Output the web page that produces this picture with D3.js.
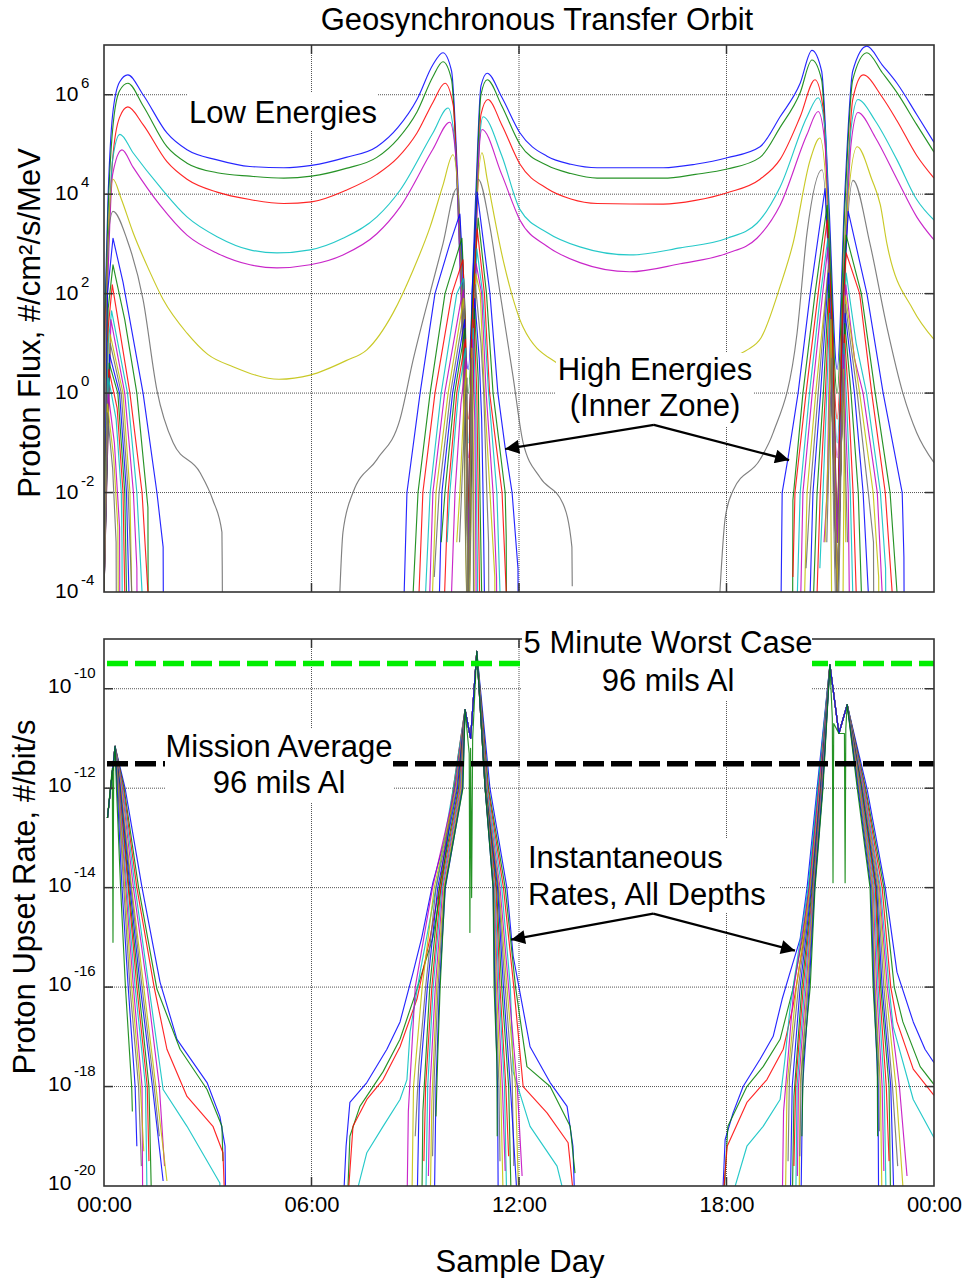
<!DOCTYPE html>
<html>
<head>
<meta charset="utf-8">
<script src="https://cdn.jsdelivr.net/npm/d3@7"></script>
<style>
  body { margin: 0; background: #fff; }
  svg { font-family: Arial, "Liberation Sans", sans-serif; }
</style>
</head>
<body>
<svg id="chart" width="963" height="1278"></svg>
<script>
// ---- axes ----
const hourTicks = [0, 6, 12, 18, 24];
const hourLabels = ["00:00", "06:00", "12:00", "18:00", "00:00"];
const fluxTicks = [1e6, 1e4, 1e2, 1e0, 1e-2, 1e-4];
const rateTicks = [1e-10, 1e-12, 1e-14, 1e-16, 1e-18, 1e-20];

const seriesColors = ["#0000ff", "#008000", "#ff0000", "#00bfbf", "#c000c0", "#c0c000", "#6a6a6a"];

// ---- top panel: proton flux, [hour, #/cm2/s/MeV] ----
const lowBlue = [[0,10],[0.12,1e4],[0.25,4e5],[0.45,1.8e6],[0.69,2.5e6],[1.13,1e6],[1.82,1.7e5],[2.4,7.8e4],[3.27,4.9e4],[4.22,3.6e4],[5.2,3.4e4],[6.0,3.8e4],[7.0,5.5e4],[7.89,9e4],[8.5,2.2e5],[9.05,8e5],[9.51,4e6],[9.8,7e6],[10.05,3e6],[10.25,1e4],[10.53,3],[10.75,1e4],[10.9,1.5e6],[11.08,2.7e6],[11.5,9e5],[12.03,1.7e5],[12.81,5.8e4],[13.5,4e4],[14.26,3.4e4],[16.17,3.4e4],[17.1,4e4],[18.02,5.4e4],[18.97,9e4],[19.55,3.6e5],[20.13,1.7e6],[20.47,7.8e6],[20.75,3e6],[20.95,1e4],[21.2,3],[21.42,1e4],[21.65,3e6],[22.06,9.5e6],[22.5,4e6],[22.93,1.7e6],[23.5,4e5],[24,1.1e5]];
const lowGreen = [[0,5],[0.12,5e3],[0.25,2e5],[0.45,1.2e6],[0.69,1.7e6],[1.13,6e5],[1.82,9e4],[2.4,4.2e4],[3.27,2.7e4],[4.22,2.3e4],[5.2,2.1e4],[6.0,2.3e4],[7.0,3.3e4],[7.89,5.5e4],[8.5,1.3e5],[9.05,4.5e5],[9.51,2.3e6],[9.8,4.6e6],[10.05,2e6],[10.25,5e3],[10.53,1],[10.75,5e3],[10.9,1e6],[11.08,2e6],[11.5,6e5],[12.03,1e5],[12.81,3.8e4],[13.5,2.6e4],[14.26,2.1e4],[16.17,2.1e4],[17.1,2.5e4],[18.02,3.2e4],[18.97,5.5e4],[19.55,2.2e5],[20.13,1.1e6],[20.47,5e6],[20.75,2e6],[20.95,5e3],[21.2,1],[21.42,5e3],[21.65,2e6],[22.06,7e6],[22.5,2.8e6],[22.93,1.1e6],[23.5,2.5e5],[24,7e4]];
const lowRed = [[0,2],[0.12,1e3],[0.25,5e4],[0.45,3.5e5],[0.69,5.7e5],[1.13,2.5e5],[1.82,4.5e4],[2.4,2e4],[3.27,1.1e4],[4.22,7.8e3],[5.2,6.5e3],[6.0,7e3],[7.0,1.2e4],[7.89,2.5e4],[8.5,5.5e4],[9.05,1.7e5],[9.51,7e5],[9.86,1.7e6],[10.1,6e5],[10.28,1e3],[10.53,0.3],[10.75,1e3],[10.9,4e5],[11.1,8e5],[11.5,2.5e5],[12.03,4e4],[12.81,1.3e4],[13.5,8e3],[14.26,6.5e3],[16.17,6.3e3],[17.1,7.5e3],[18.02,1.07e4],[18.97,2e4],[19.55,5e4],[20.13,3.6e5],[20.56,2e6],[20.8,5e5],[20.97,1e3],[21.2,0.3],[21.42,1e3],[21.65,8e5],[21.95,2.5e6],[22.5,9e5],[22.93,3e5],[23.5,6e4],[24,2.1e4]];
const lowCyan = [[0,0.5],[0.1,200],[0.25,5e4],[0.46,1.6e5],[0.84,6.8e4],[1.62,1.4e4],[2.4,3.5e3],[3.27,1.4e3],[4.22,760],[5.0,660],[5.96,760],[6.91,1.3e3],[7.89,3.5e3],[8.56,1.2e4],[9.51,1.7e5],[9.95,5.4e5],[10.15,1e5],[10.3,300],[10.53,0.1],[10.72,300],[10.85,1e5],[10.96,3.6e5],[11.5,6e4],[12.03,4.9e3],[12.81,1.7e3],[13.76,870],[15.2,600],[16.66,830],[18.02,1.3e3],[18.88,2.6e3],[19.55,1.4e4],[20.33,3.6e5],[20.65,8.7e5],[20.85,2e5],[21.0,300],[21.2,0.1],[21.4,300],[21.6,2e5],[21.8,8e5],[22.3,3e5],[22.93,4.9e4],[23.5,7.8e3],[24,3e3]];
const lowMagenta = [[0,0.2],[0.1,100],[0.25,2.5e4],[0.52,7.8e4],[0.84,3.5e4],[1.62,6e3],[2.4,1.5e3],[3.27,650],[4.22,380],[5.0,330],[5.96,380],[6.91,600],[7.89,1.6e3],[8.56,5.5e3],[9.51,8e4],[10.0,2.8e5],[10.18,5e4],[10.32,100],[10.53,0.05],[10.72,100],[10.83,5e4],[10.93,2e5],[11.5,2.5e4],[12.03,3e3],[12.81,900],[13.76,420],[15.2,275],[16.66,400],[18.02,650],[18.88,1.3e3],[19.55,6e3],[20.33,1.6e5],[20.65,4.6e5],[20.85,1e5],[21.0,100],[21.2,0.05],[21.4,100],[21.6,1e5],[21.8,4.4e5],[22.3,1.4e5],[22.93,2e4],[23.5,3.5e3],[24,1.2e3]];
const lowYellow = [[0,0.01],[0.1,500],[0.26,2e4],[0.5,8e3],[0.84,1.7e3],[1.3,300],[1.71,76],[2.4,16],[3.0,6],[3.73,3.4],[5.06,1.9],[5.96,2.3],[7.0,4.5],[7.6,7.4],[8.36,41],[8.94,300],[9.43,2.2e3],[9.8,1.5e4],[10.09,6.2e4],[10.3,2e3],[10.53,1e-5],[10.75,2e3],[10.93,6.8e4],[11.08,2e4],[11.54,480],[12.12,21],[13.1,4],[14.3,2],[15.5,1.8],[16.8,2.5],[18.0,5],[18.6,7.4],[19.0,13],[19.55,140],[19.92,1e3],[20.42,4.9e4],[20.7,1.35e5],[20.95,2e3],[21.05,1e-5],null,[21.36,1e-5],[21.45,2e3],[21.78,9e4],[22.2,2e4],[22.45,6e3],[22.64,1e3],[23.4,47],[24,12]];
const lowGray = [[0,1e-4],[0.1,1e3],[0.26,4.5e3],[0.67,1.2e3],[1.13,76],[1.53,1.15],[2.0,0.1],[2.78,0.025],[3.15,7e-3],[3.41,1.6e-3],[3.42,2.5e-4],[3.43,1e-5],null,
  [6.82,1e-4],[6.91,1.6e-3],[7.2,0.01],[7.89,0.046],[8.56,0.3],[8.94,4.7],[9.43,105],[9.8,1e3],[10.2,1.3e4],[10.35,100],[10.53,1e-5],[10.7,100],[10.82,2e4],[11.16,2.2e3],[11.45,105],[11.83,2.1],[12.12,0.1],[12.61,0.02],[13.27,6e-3],[13.53,8e-4],[13.54,1.3e-4],null,
  [17.81,1e-4],[17.96,3e-3],[18.19,0.011],[18.97,0.046],[19.35,0.16],[20.04,16],[20.33,1.7e3],[20.76,3.1e4],[20.98,100],[21.2,1e-5],[21.4,100],[21.66,1.9e4],[22.15,1e3],[22.64,21],[23.1,1],[23.5,0.16],[24,0.04]];
const lowEnergy = [lowBlue, lowGreen, lowRed, lowCyan, lowMagenta, lowYellow, lowGray];

// high energy (inner zone) channels, one row per channel
const hiStart = [
  [[0,1e-4],[0.1,100],[0.26,1300],[0.55,170],[1.13,1],[1.53,0.01],[1.71,8e-4],[1.72,1e-5]],
  [[0,1e-4],[0.12,50],[0.26,380],[0.6,30],[0.95,1],[1.27,5e-3],[1.28,1e-5]],
  [[0,1e-4],[0.12,20],[0.24,150],[0.75,1],[1.1,0.01],[1.27,1e-4]],
  [[0,1e-4],[0.12,10],[0.22,45],[0.68,1],[0.95,0.01],[1.1,1e-4]],
  [[0,1e-4],[0.2,30],[0.6,1],[0.85,0.01],[0.95,3e-4],[0.96,1e-5]],
  [[0,1e-4],[0.18,15],[0.55,1],[0.75,0.01],[0.8,1e-4]],
  [[0,1e-4],[0.18,10],[0.5,1],[0.7,0.01],[0.8,1e-4]],
  [[0,1e-4],[0.16,6],[0.45,1],[0.65,0.01],[0.72,1e-4]],
  [[0,1e-4],[0.15,4],[0.4,1],[0.6,0.01],[0.65,1e-4]],
  [[0,1e-4],[0.14,3],[0.38,0.5],[0.55,0.01],[0.6,1e-4]],
  [[0,1e-4],[0.13,2],[0.35,0.3],[0.5,0.01],[0.52,1e-3],[0.53,1e-5]],
  [[0,1e-4],[0.12,1],[0.3,0.1],[0.45,2e-3],[0.46,1e-5]],
  [[0,1e-4],[0.1,0.6],[0.28,0.05],[0.4,2e-3],[0.42,1e-5]],
  [[0,1e-4],[0.1,0.4],[0.25,0.03],[0.35,1e-3],[0.36,1e-5]]
];
const hiPerigee1 = [
  [[8.68,1e-4],[8.76,1e-2],[9.14,1],[9.57,100],[10.0,1000],[10.29,4000],[10.42,100],[10.53,1e-3],[10.64,100],[10.79,11000],[11.16,100],[11.39,1],[11.6,0.08],[11.8,0.01],[11.97,3e-4],[11.98,1e-5]],
  [[8.94,1e-4],[9.08,1e-2],[9.43,1],[9.86,100],[10.35,1300],[10.45,30],[10.53,1e-3],[10.63,30],[10.82,3300],[11.06,100],[11.25,1],[11.6,0.01],[11.63,1.3e-3],[11.64,1e-5]],
  [[9.11,1e-4],[9.22,1e-2],[9.57,1],[10.06,100],[10.38,480],[10.46,10],[10.53,1e-3],[10.62,10],[10.79,2000],[11.0,100],[11.15,1],[11.51,0.01],[11.63,1e-4]],
  [[9.3,1e-4],[9.43,1e-2],[9.75,1],[10.2,100],[10.4,200],[10.53,1e-3],[10.78,800],[10.95,100],[11.12,1],[11.36,0.01],[11.45,1e-4]],
  [[9.42,1e-4],[9.51,1e-2],[9.85,1],[10.3,60],[10.4,120],[10.53,1e-3],[10.76,400],[10.92,100],[11.05,1],[11.25,0.01],[11.35,2e-4],[11.36,1e-5]],
  [[9.5,1e-4],[9.6,1e-2],[9.95,1],[10.4,80],[10.53,1e-4],[10.75,250],[10.88,100],[11.0,1],[11.16,0.01],[11.3,2e-4],[11.31,1e-5]],
  [[9.55,2e-4],[9.69,1e-2],[10.02,1],[10.42,50],[10.53,1e-4],[10.74,150],[10.9,10],[10.98,1],[11.07,0.01],[11.12,1e-3],[11.13,1e-5]],
  [[9.7,1e-4],[9.77,1e-2],[10.08,1],[10.43,30],[10.53,1e-4],[10.72,80],[10.85,5],[10.92,0.3],[10.96,0.01],[11.0,1e-4]],
  [[9.75,1e-3],[9.86,1e-2],[10.14,1],[10.44,20],[10.53,1e-4],[10.71,50],[10.82,2],[10.87,0.01],[10.92,1e-4]],
  [[9.85,1e-4],[9.95,1e-2],[10.2,1],[10.45,12],[10.53,1e-4],[10.7,30],[10.78,1],[10.82,0.01],[10.86,1e-4]],
  [[9.92,1e-3],[10.0,1e-2],[10.25,1],[10.46,8],[10.53,1e-4],[10.68,20],[10.75,0.5],[10.77,0.01],[10.8,2e-4],[10.81,1e-5]],
  [[10.05,1e-4],[10.15,1e-2],[10.32,0.6],[10.47,5],[10.53,1e-4],[10.66,12],[10.72,0.3],[10.74,0.01],[10.76,1e-4]],
  [[10.2,1e-3],[10.29,1e-2],[10.4,0.5],[10.48,3],[10.53,1e-5],[10.64,8],[10.68,0.1],[10.7,1e-3],[10.71,1e-5]],
  [[10.28,1e-3],[10.38,0.05],[10.5,2],[10.53,1e-5],[10.62,5],[10.66,0.05],[10.68,1e-3],[10.69,1e-5]]
];
const hiPerigee2 = [
  [[19.58,1e-4],[19.61,1e-2],[19.78,0.05],[20.07,1],[20.42,100],[20.85,13000],[21.0,100],[21.2,1e-3],[21.38,100],[21.52,4500],[22.06,100],[22.53,1],[23.08,0.01],[23.13,5e-4],[23.14,1e-5]],
  [[19.91,1e-5],[19.92,7e-3],[20.21,1],[20.56,100],[20.91,6000],[21.05,50],[21.2,1e-3],[21.35,50],[21.46,1500],[21.9,100],[22.3,1],[22.73,0.01],[22.93,1e-4]],
  [[19.92,2e-4],[19.98,1e-2],[20.3,1],[20.65,100],[20.91,3000],[21.05,30],[21.2,1e-3],[21.35,30],[21.46,660],[21.85,100],[22.2,1],[22.59,0.01],[22.79,1e-4]],
  [[20.05,1e-4],[20.13,1e-2],[20.4,1],[20.72,100],[20.93,1300],[21.2,1e-3],[21.46,260],[21.75,10],[22.05,1],[22.45,0.01],[22.6,3e-4],[22.61,1e-5]],
  [[20.15,1e-4],[20.21,1e-2],[20.48,1],[20.78,100],[20.93,830],[21.2,1e-3],[21.45,150],[21.7,5],[21.95,1],[22.36,0.01],[22.5,1e-4]],
  [[20.26,1e-4],[20.33,1e-2],[20.58,1],[20.94,300],[21.2,1e-4],[21.44,90],[21.85,1],[22.24,0.01],[22.4,2e-4],[22.41,1e-5]],
  [[20.3,3e-4],[20.42,1e-2],[20.65,1],[20.95,380],[21.2,1e-4],[21.44,60],[21.78,1],[22.1,0.01],[22.25,1e-3],[22.26,1e-5]],
  [[20.42,1e-4],[20.5,1e-2],[20.72,1],[20.95,260],[21.2,1e-4],[21.43,40],[21.7,1],[21.95,0.01],[22.1,1e-4]],
  [[20.52,1e-4],[20.62,1e-2],[20.8,1],[20.96,150],[21.2,1e-4],[21.42,25],[21.6,1],[21.81,0.01],[21.9,1e-4]],
  [[20.62,1e-4],[20.71,1e-2],[20.86,1],[20.97,80],[21.2,1e-4],[21.41,15],[21.52,1],[21.66,0.01],[21.75,1e-4]],
  [[20.7,3e-4],[20.79,1e-2],[20.9,1],[20.98,40],[21.2,1e-4],[21.4,10],[21.48,0.5],[21.58,0.01],[21.65,1e-4]],
  [[20.82,1e-3],[20.91,1e-2],[20.96,1],[21.0,20],[21.2,1e-4],[21.39,6],[21.45,0.2],[21.52,0.01],[21.55,1e-4]],
  [[20.85,1e-3],[20.95,0.1],[21.02,30],[21.2,1e-4],[21.38,3],[21.45,1e-3]],
  [[20.9,1e-3],[21.0,0.5],[21.05,5],[21.2,1e-5],[21.36,3],[21.42,0.1],[21.5,1e-3]]
];

// ---- bottom panel: upset rate, [hour, log10(#/bit/s)] ----
const rateStartPeak = [[0.1,-12.6],[0.32,-11.16]];
const rateStartPeakSpike = [[0.1,-12.6],[0.24,-11.6],[0.26,-15.1],[0.28,-11.5],[0.32,-11.16]];
const rateP1Peak = [[10.44,-10.42],[10.6,-11.0],[10.78,-9.25]];
const rateP1PeakSpike = [[10.44,-10.42],[10.56,-11.3],[10.58,-14.9],[10.6,-11.2],[10.63,-14.2],[10.66,-11],[10.78,-9.25]];
const rateP2Peak = [[20.99,-9.52],[21.25,-10.9],[21.49,-10.32]];
const rateP2PeakSpike = [[20.99,-9.52],[21.06,-10.6],[21.08,-13.9],[21.1,-10.7],[21.25,-10.9],[21.41,-10.9],[21.43,-13.9],[21.45,-10.8],[21.49,-10.32]];

const rateStartFall = [
  [[0.61,-12],[1.1,-14],[1.62,-15.9],[2.11,-17.05],[2.98,-17.92],[3.35,-18.6],[3.5,-19.2],[3.52,-20.5]],
  [[0.58,-12],[1.0,-14],[1.53,-16.04],[2.2,-17.25],[2.98,-18.06],[3.41,-18.8],[3.44,-19.5]],
  [[0.56,-12],[0.95,-14],[1.45,-16],[1.82,-17.25],[2.4,-18.2],[3.15,-18.8],[3.44,-19.33],[3.5,-20.5]],
  [[0.54,-12],[0.9,-14],[1.3,-16],[1.71,-18.06],[2.4,-18.8],[3.35,-19.94],[3.36,-20.5]],
  [[0.52,-12],[0.85,-14],[1.25,-16],[1.6,-18],[1.75,-19.6]],
  [[0.5,-12],[0.8,-14],[1.15,-16],[1.5,-18],[1.82,-19.9]],
  [[0.48,-12],[0.78,-14],[1.1,-16],[1.45,-18],[1.6,-19.0]],
  [[0.47,-12],[0.75,-14],[1.05,-16],[1.4,-18],[1.71,-19.9]],
  [[0.45,-12],[0.72,-14],[1.0,-16],[1.3,-18],[1.38,-20.5]],
  [[0.44,-12],[0.7,-14],[0.95,-16],[1.25,-18],[1.3,-19.5]],
  [[0.43,-12],[0.66,-14],[0.9,-16],[1.2,-18],[1.25,-20.5]],
  [[0.42,-12],[0.63,-14],[0.85,-16],[1.1,-18],[1.12,-20.5]],
  [[0.41,-12],[0.6,-14],[0.8,-16],[1.05,-18],[1.15,-19.3]],
  [[0.4,-12],[0.57,-14],[0.75,-16],[1.0,-18],[1.08,-19.6]],
  [[0.38,-12],[0.52,-14],[0.7,-16],[0.9,-18],[0.95,-19.2]],
  [[0.36,-12],[0.48,-14],[0.62,-16],[0.8,-18],[0.82,-18.5]]
];
const rateP1Rise = [
  [[6.91,-20.5],[7.0,-19.2],[7.11,-18.32],[7.6,-17.92],[8.18,-17.25],[8.56,-16.7],[8.94,-15.7],[9.19,-15.0],[9.51,-13.9],[9.92,-12.87],[10.29,-11.45]],
  [[7.03,-20.5],[7.11,-19.0],[7.4,-18.4],[8.07,-17.7],[8.56,-17.05],[9.05,-16.04],[9.51,-15.0],[9.75,-14],[10.12,-12]],
  [[7.03,-20.5],[7.2,-18.8],[7.6,-18.26],[8.07,-17.86],[8.56,-17.2],[9.05,-16.24],[9.43,-15.0],[9.7,-14],[10.1,-12]],
  [[7.17,-20.5],[7.6,-19.33],[8.07,-18.8],[8.56,-18.26],[8.76,-17.86],[8.85,-16.9],[9.14,-15.7],[9.6,-14],[10.1,-12]],
  [[8.76,-20.5],[8.8,-18.5],[9.0,-16],[9.5,-14],[10.15,-12]],
  [[8.9,-20.5],[8.95,-18],[9.2,-16],[9.55,-14],[10.18,-12]],
  [[9.0,-19.0],[9.1,-17.6],[9.3,-16],[9.6,-14],[10.2,-12]],
  [[9.05,-20.5],[9.12,-18],[9.35,-16],[9.65,-14],[10.22,-12]],
  [[9.19,-20.5],[9.22,-18.5],[9.42,-16],[9.7,-14],[10.25,-12]],
  [[9.25,-19.5],[9.3,-18],[9.48,-16],[9.74,-14],[10.27,-12]],
  [[9.3,-20.5],[9.36,-18],[9.52,-16],[9.77,-14],[10.29,-12]],
  [[9.38,-19.8],[9.43,-18],[9.58,-16],[9.8,-14],[10.31,-12]],
  [[9.43,-20.5],[9.48,-18.3],[9.62,-16],[9.83,-14],[10.33,-12]],
  [[9.5,-19.4],[9.55,-17.8],[9.66,-16],[9.85,-14],[10.35,-12]],
  [[9.55,-20.5],[9.6,-18],[9.7,-16],[9.87,-14],[10.37,-12]],
  [[9.6,-18.6],[9.65,-17.4],[9.72,-16],[9.86,-14],[10.38,-12]]
];
const rateP1Fall = [
  [[11.16,-12],[11.65,-14],[11.83,-15.37],[12.32,-17.2],[12.9,-17.92],[13.39,-18.4],[13.56,-19.2],[13.62,-20.5]],
  [[11.12,-12],[11.6,-14],[11.9,-16],[12.23,-17.6],[12.9,-18.0],[13.48,-18.8],[13.62,-19.74]],
  [[11.1,-12],[11.55,-14],[11.85,-16],[12.12,-18.0],[12.81,-18.53],[13.42,-19.13],[13.62,-20.5]],
  [[11.08,-12],[11.5,-14],[11.75,-16],[11.83,-17.7],[12.32,-18.8],[13.1,-19.6],[13.42,-20.5]],
  [[11.06,-12],[11.45,-14],[11.7,-16],[11.95,-18],[12.09,-19.8]],
  [[11.05,-12],[11.42,-14],[11.65,-16],[11.9,-18],[12.0,-20.5]],
  [[11.04,-12],[11.4,-14],[11.6,-16],[11.8,-17.8],[11.85,-19.6]],
  [[11.03,-12],[11.38,-14],[11.55,-16],[11.75,-18],[11.97,-20.5]],
  [[11.03,-12],[11.35,-14],[11.5,-16],[11.7,-18],[11.78,-20.5]],
  [[11.02,-12],[11.33,-14],[11.45,-16],[11.62,-18],[11.7,-19.4]],
  [[11.02,-12],[11.3,-14],[11.42,-16],[11.58,-18],[11.65,-20.5]],
  [[11.02,-12],[11.28,-14],[11.38,-16],[11.52,-18],[11.6,-19.7]],
  [[11.02,-12],[11.27,-14],[11.35,-16],[11.47,-18],[11.55,-20.5]],
  [[11.02,-12],[11.26,-14],[11.32,-16],[11.42,-18],[11.45,-19.5]],
  [[11.02,-12],[11.25,-14],[11.3,-16],[11.38,-18],[11.4,-20.5]],
  [[11.02,-12],[11.25,-14],[11.28,-16],[11.36,-17.5],[11.37,-19]]
];
const rateP2Rise = [
  [[17.87,-20.5],[17.96,-19.07],[18.19,-18.53],[18.48,-18],[18.97,-17.45],[19.35,-16.99],[19.61,-16.24],[19.84,-15.7],[20.13,-15.03],[20.33,-14],[20.62,-12]],
  [[17.9,-20.5],[18.04,-18.8],[18.59,-18.0],[19.06,-17.6],[19.55,-17.05],[19.92,-16.04],[20.2,-15],[20.38,-14],[20.65,-12]],
  [[17.87,-20.5],[18.02,-19.2],[18.59,-18.32],[19.17,-17.86],[19.64,-17.25],[19.92,-16.4],[20.2,-15.2],[20.4,-14],[20.66,-12]],
  [[18.04,-20.5],[18.59,-19.2],[19.06,-18.8],[19.55,-18.26],[19.69,-17.45],[19.84,-16.4],[20.1,-15.2],[20.36,-14],[20.64,-12]],
  [[19.61,-20.5],[19.65,-18.5],[19.95,-16],[20.4,-14],[20.68,-12]],
  [[19.7,-20.5],[19.75,-18],[20.02,-16],[20.42,-14],[20.7,-12]],
  [[19.78,-19.5],[19.82,-17.8],[20.08,-16],[20.44,-14],[20.71,-12]],
  [[19.84,-20.5],[19.9,-18],[20.13,-16],[20.46,-14],[20.72,-12]],
  [[19.9,-20.5],[19.95,-18.2],[20.18,-16],[20.48,-14],[20.73,-12]],
  [[19.95,-19.6],[20.0,-18],[20.22,-16],[20.5,-14],[20.74,-12]],
  [[20.0,-20.5],[20.04,-18],[20.26,-16],[20.51,-14],[20.75,-12]],
  [[20.05,-19.8],[20.08,-18],[20.3,-16],[20.52,-14],[20.76,-12]],
  [[20.1,-20.5],[20.13,-18],[20.33,-16],[20.53,-14],[20.77,-12]],
  [[20.12,-19.4],[20.16,-17.8],[20.36,-16],[20.54,-14],[20.78,-12]],
  [[20.15,-20.5],[20.2,-18],[20.39,-16],[20.55,-14],[20.78,-12]],
  [[20.18,-19.0],[20.22,-17.5],[20.42,-16],[20.56,-14],[20.79,-12]]
];
const rateP2Fall = [
  [[22.06,-12],[22.59,-14],[22.93,-15.7],[23.4,-16.7],[23.74,-17.25],[24,-17.52]],
  [[22.02,-12],[22.55,-14],[22.85,-16],[23.1,-16.7],[23.6,-17.6],[24,-17.96]],
  [[22.0,-12],[22.5,-14],[22.75,-16],[22.93,-16.7],[23.4,-17.65],[24,-18.18]],
  [[21.98,-12],[22.45,-14],[22.7,-16],[22.82,-16.8],[23.4,-18.26],[24,-19.03]],
  [[21.96,-12],[22.42,-14],[22.65,-16],[23.0,-18],[23.22,-19.8]],
  [[21.94,-12],[22.4,-14],[22.6,-16],[22.9,-18],[23.15,-20.5]],
  [[21.93,-12],[22.37,-14],[22.55,-16],[22.8,-18],[22.95,-19.6]],
  [[21.91,-12],[22.34,-14],[22.5,-16],[22.75,-18],[22.85,-20.5]],
  [[21.9,-12],[22.32,-14],[22.46,-16],[22.7,-18],[22.75,-20.5]],
  [[21.88,-12],[22.3,-14],[22.42,-16],[22.62,-18],[22.7,-19.5]],
  [[21.87,-12],[22.27,-14],[22.38,-16],[22.56,-18],[22.62,-20.5]],
  [[21.85,-12],[22.24,-14],[22.34,-16],[22.5,-18],[22.55,-19.7]],
  [[21.84,-12],[22.22,-14],[22.3,-16],[22.45,-18],[22.5,-20.5]],
  [[21.82,-12],[22.2,-14],[22.28,-16],[22.4,-17.6],[22.42,-18.9]],
  [[21.8,-12],[22.17,-14],[22.26,-16],[22.38,-18],[22.4,-20.5]],
  [[21.78,-12],[22.15,-14],[22.24,-16],[22.36,-17.5],[22.37,-19]]
];

const worstCase5min = 3.2e-10;
const missionAverage = 3.1e-12;

// annotation arrows: [hour, value]
const fluxArrow = { apex: [15.9, 0.23], tips: [[11.6, 0.075], [19.81, 0.045]] };
const rateArrow = { apex: [15.88, 3e-15], tips: [[11.77, 9e-16], [19.98, 5.4e-16]] };

// ---- drawing ----
const svg = d3.select("#chart");
const X0 = 104, X1 = 934;
const FONT = 31;
const x = d3.scaleLinear().domain([0, 24]).range([X0, X1]);
const yFlux = d3.scaleLog().domain([1e-4, 1e7]).range([592, 45]);
const yRate = d3.scaleLog().domain([1e-20, 1e-9]).range([1186, 639]);

const defs = svg.append("defs");
defs.append("marker").attr("id", "head")
  .attr("viewBox", "0 0 10 10").attr("refX", 10).attr("refY", 5)
  .attr("markerUnits", "userSpaceOnUse").attr("markerWidth", 19).attr("markerHeight", 14)
  .attr("orient", "auto")
  .append("path").attr("d", "M0,0L10,5L0,10z").attr("fill", "#000");

function panel(id, y, gridVals) {
  const [yb, yt] = y.range();
  defs.append("clipPath").attr("id", id)
    .append("rect").attr("x", X0).attr("y", yt).attr("width", X1 - X0).attr("height", yb - yt);
  const g = svg.append("g");
  const grid = g.append("g").attr("stroke", "#555").attr("stroke-width", 1).attr("stroke-dasharray", "1,1");
  grid.selectAll(".h").data(gridVals).join("line").attr("class", "h")
    .attr("x1", X0).attr("x2", X1).attr("y1", d => y(d)).attr("y2", d => y(d));
  grid.selectAll(".v").data(hourTicks.slice(1, -1)).join("line").attr("class", "v")
    .attr("x1", d => x(d)).attr("x2", d => x(d)).attr("y1", yt).attr("y2", yb);
  return { g, gridVals, yt, yb };
}

function frame(p, y) {
  const ticks = p.g.append("g").attr("stroke", "#333").attr("stroke-width", 1.5);
  p.gridVals.forEach(v => {
    ticks.append("line").attr("x1", X0).attr("x2", X0 + 9).attr("y1", y(v)).attr("y2", y(v));
    ticks.append("line").attr("x1", X1 - 9).attr("x2", X1).attr("y1", y(v)).attr("y2", y(v));
  });
  hourTicks.slice(1, -1).forEach(h => {
    ticks.append("line").attr("x1", x(h)).attr("x2", x(h)).attr("y1", p.yb).attr("y2", p.yb - 9);
    ticks.append("line").attr("x1", x(h)).attr("x2", x(h)).attr("y1", p.yt).attr("y2", p.yt + 9);
  });
  p.g.append("rect").attr("x", X0).attr("y", p.yt).attr("width", X1 - X0).attr("height", p.yb - p.yt)
    .attr("fill", "none").attr("stroke", "#333").attr("stroke-width", 1.6);
}

function yLabels(y, vals, x10, baseDy, expX, expDy) {
  const g = svg.append("g").attr("fill", "#000");
  vals.forEach(v => {
    g.append("text").attr("x", x10).attr("y", y(v) + baseDy).attr("font-size", 21).text("10");
    g.append("text").attr("x", expX).attr("y", y(v) - expDy).attr("font-size", 15)
      .text(String(Math.round(Math.log10(v))));
  });
}

function curves(p, clipId, data, line) {
  p.g.append("g").attr("clip-path", `url(#${clipId})`)
    .selectAll("path").data(data).join("path")
    .attr("d", line)
    .attr("fill", "none")
    .attr("stroke", (d, i) => seriesColors[i % seriesColors.length])
    .attr("stroke-width", 1.15)
    .attr("stroke-opacity", 0.85)
    .attr("stroke-linejoin", "round");
}

function labelBox(x0, y0, x1, y1) {
  svg.append("rect").attr("x", x0).attr("y", y0).attr("width", x1 - x0).attr("height", y1 - y0).attr("fill", "#fff");
}

function label(lines, xPos, anchor) {
  const t = svg.append("g").attr("font-size", FONT).attr("text-anchor", anchor).attr("fill", "#000");
  lines.forEach(([s, yy]) => t.append("text").attr("x", xPos).attr("y", yy).text(s));
}

function arrows(arrow, y) {
  const [ax, ay] = [x(arrow.apex[0]), y(arrow.apex[1])];
  arrow.tips.forEach(([tx, tv]) => {
    svg.append("line").attr("x1", ax).attr("y1", ay).attr("x2", x(tx)).attr("y2", y(tv))
      .attr("stroke", "#000").attr("stroke-width", 2.2).attr("marker-end", "url(#head)");
  });
}

// top panel
const fluxPanel = panel("clipTop", yFlux, fluxTicks.slice(0, -1));
const fluxSmooth = d3.line().defined(d => d !== null).x(d => x(d[0])).y(d => yFlux(d[1])).curve(d3.curveMonotoneX);
curves(fluxPanel, "clipTop", lowEnergy, fluxSmooth);
const hiChannels = hiStart.map((s, i) => [...s, null, ...hiPerigee1[i], null, ...hiPerigee2[i]]);
const fluxLinear = d3.line().defined(d => d !== null).x(d => x(d[0])).y(d => yFlux(d[1]));
curves(fluxPanel, "clipTop", hiChannels, fluxLinear);
frame(fluxPanel, yFlux);

// bottom panel
const ratePanel = panel("clipBottom", yRate, rateTicks.slice(0, -1));
const last = rateStartFall.length - 1;
const rateSeries = rateStartFall.map((s, i) => [
  ...(i === last ? rateStartPeakSpike : rateStartPeak), ...s, null,
  ...rateP1Rise[i], ...(i === last ? rateP1PeakSpike : rateP1Peak), ...rateP1Fall[i], null,
  ...rateP2Rise[i], ...(i === last ? rateP2PeakSpike : rateP2Peak), ...rateP2Fall[i]
]);
const rateLine = d3.line().defined(d => d !== null).x(d => x(d[0])).y(d => yRate(Math.pow(10, d[1])));
curves(ratePanel, "clipBottom", rateSeries, rateLine);

// reference levels
const refs = ratePanel.g.append("g").attr("clip-path", "url(#clipBottom)");
[[worstCase5min, "#00ee00"], [missionAverage, "#000"]].forEach(([v, c]) => {
  refs.append("line").attr("x1", x(0)).attr("x2", x(24)).attr("y1", yRate(v)).attr("y2", yRate(v))
    .attr("stroke", c).attr("stroke-width", 5.5).attr("stroke-dasharray", "21,7").attr("stroke-dashoffset", 25);
});
frame(ratePanel, yRate);

// tick labels
yLabels(yFlux, fluxTicks, 55, 6, 81, 7);
yLabels(yRate, rateTicks, 48, 4, 74, 11);

const xAxis = svg.append("g").attr("transform", `translate(0,${yRate.range()[0]})`)
  .call(d3.axisBottom(x).tickValues(hourTicks).tickSize(0).tickPadding(10)
    .tickFormat((d, i) => hourLabels[i]));
xAxis.select(".domain").remove();
xAxis.selectAll("text").attr("font-size", 22).attr("font-family", "Arial, 'Liberation Sans', sans-serif").attr("fill", "#000");

// titles
svg.append("text").attr("x", 537).attr("y", 30).attr("text-anchor", "middle").attr("font-size", FONT)
  .text("Geosynchronous Transfer Orbit");
svg.append("text").attr("x", 520).attr("y", 1272).attr("text-anchor", "middle").attr("font-size", FONT)
  .text("Sample Day");
svg.append("text").attr("transform", "translate(40,323) rotate(-90)").attr("text-anchor", "middle")
  .attr("font-size", FONT).text("Proton Flux, #/cm²/s/MeV");
svg.append("text").attr("transform", "translate(35,897) rotate(-90)").attr("text-anchor", "middle")
  .attr("font-size", FONT).text("Proton Upset Rate, #/bit/s");

// annotations
labelBox(188, 92, 377, 130);
label([["Low Energies", 123]], 283, "middle");
labelBox(556, 353, 754, 426);
label([["High Energies", 380], ["(Inner Zone)", 416]], 655, "middle");
labelBox(165, 728, 393, 802);
label([["Mission Average", 757], ["96 mils Al", 793]], 279, "middle");
labelBox(522, 626, 812, 700);
label([["5 Minute Worst Case", 653], ["96 mils Al", 691]], 668, "middle");
labelBox(523, 838, 780, 913);
label([["Instantaneous", 868], ["Rates, All Depths", 905]], 528, "start");

arrows(fluxArrow, yFlux);
arrows(rateArrow, yRate);
</script>
</body>
</html>
